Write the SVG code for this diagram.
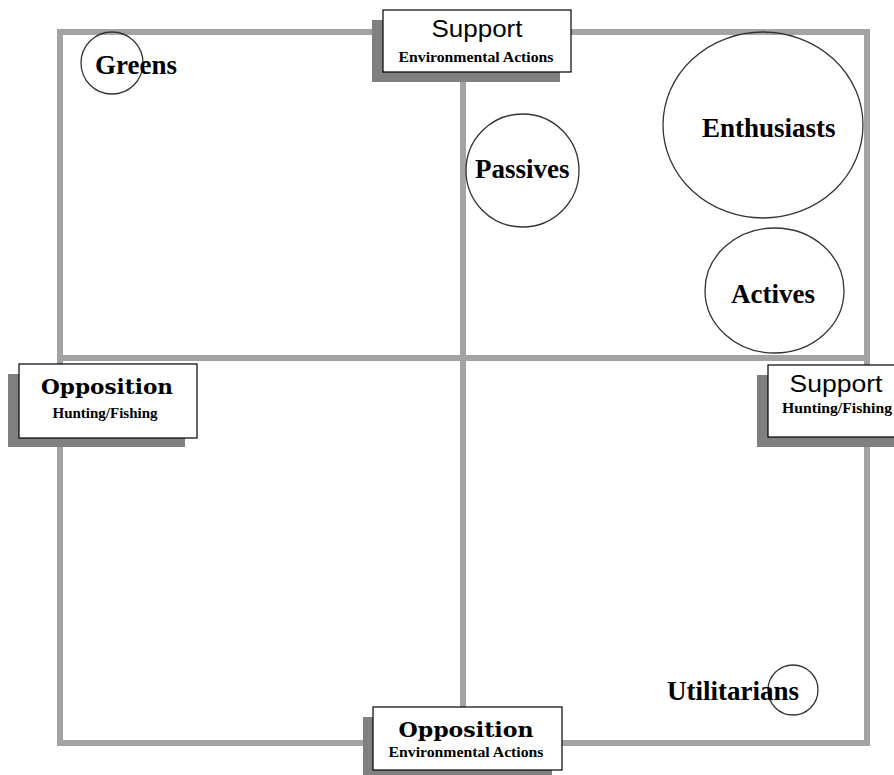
<svg xmlns="http://www.w3.org/2000/svg" width="894" height="775" viewBox="0 0 894 775">
<style>
.axis{stroke:#a3a3a3;stroke-width:6;fill:none}
.shadow{fill:#808080}
.box{fill:#fff;stroke:#000;stroke-width:1.2}
.seg{fill:none;stroke:#333;stroke-width:1.3}
.lbl{font-family:"Liberation Serif","Times New Roman",serif;font-weight:bold;font-size:27px;fill:#000}
.hand{font-family:"Liberation Sans",Arial,sans-serif;font-size:23px;font-weight:normal;fill:#000}
.heavy{font-family:"DejaVu Serif","Liberation Serif",serif;font-weight:bold;font-size:21px;fill:#000}
.sub{font-family:"Liberation Serif","Times New Roman",serif;font-weight:bold;font-size:15px;fill:#000}
</style>
<rect width="894" height="775" fill="#fff"/>
<g id="frame">
<rect class="axis" x="60" y="32" width="807" height="711"/>
<line class="axis" x1="463" y1="32" x2="463" y2="743"/>
<line class="axis" x1="60" y1="358" x2="867" y2="358"/>
</g>
<g id="connectors"></g>
<g id="support-env">
<rect class="shadow" x="372" y="20" width="188" height="62"/>
<rect class="box" x="383" y="10" width="188" height="62"/>
<text class="hand" x="477" y="37" text-anchor="middle" textLength="91" lengthAdjust="spacingAndGlyphs">Support</text>
<text class="sub" x="476" y="62" text-anchor="middle" textLength="155" lengthAdjust="spacingAndGlyphs">Environmental Actions</text>
</g>
<g id="opposition-hunt">
<rect class="shadow" x="8" y="374" width="177" height="73"/>
<rect class="box" x="19" y="364" width="178" height="74"/>
<text class="heavy" x="107" y="394" text-anchor="middle" textLength="132" lengthAdjust="spacingAndGlyphs">Opposition</text>
<text class="sub" x="105" y="418" text-anchor="middle" textLength="105" lengthAdjust="spacingAndGlyphs">Hunting/Fishing</text>
</g>
<g id="support-hunt">
<rect class="shadow" x="757" y="375" width="150" height="72"/>
<rect class="box" x="768" y="365" width="140" height="72"/>
<text class="hand" x="836" y="392" text-anchor="middle" textLength="93" lengthAdjust="spacingAndGlyphs">Support</text>
<text class="sub" x="837" y="413" text-anchor="middle" textLength="110" lengthAdjust="spacingAndGlyphs">Hunting/Fishing</text>
</g>
<g id="opposition-env">
<rect class="shadow" x="363" y="717" width="189" height="63"/>
<rect class="box" x="373" y="707" width="189" height="63"/>
<text class="heavy" x="466" y="737" text-anchor="middle" textLength="135" lengthAdjust="spacingAndGlyphs">Opposition</text>
<text class="sub" x="466" y="757" text-anchor="middle" textLength="155" lengthAdjust="spacingAndGlyphs">Environmental Actions</text>
</g>
<g id="greens">
<circle class="seg" cx="112" cy="63" r="31"/>
<text class="lbl" x="95" y="74">Greens</text>
</g>
<g id="passives">
<circle class="seg" cx="522.5" cy="170.5" r="56.5"/>
<text class="lbl" x="475" y="178">Passives</text>
</g>
<g id="enthusiasts">
<ellipse class="seg" cx="763" cy="125" rx="100" ry="93"/>
<text class="lbl" x="702" y="137">Enthusiasts</text>
</g>
<g id="actives">
<ellipse class="seg" cx="774.5" cy="290.5" rx="69.5" ry="62.5"/>
<text class="lbl" x="731" y="303">Actives</text>
</g>
<g id="utilitarians">
<circle class="seg" cx="793" cy="690" r="25"/>
<text class="lbl" x="667" y="700">Utilitarians</text>
</g>
</svg>
